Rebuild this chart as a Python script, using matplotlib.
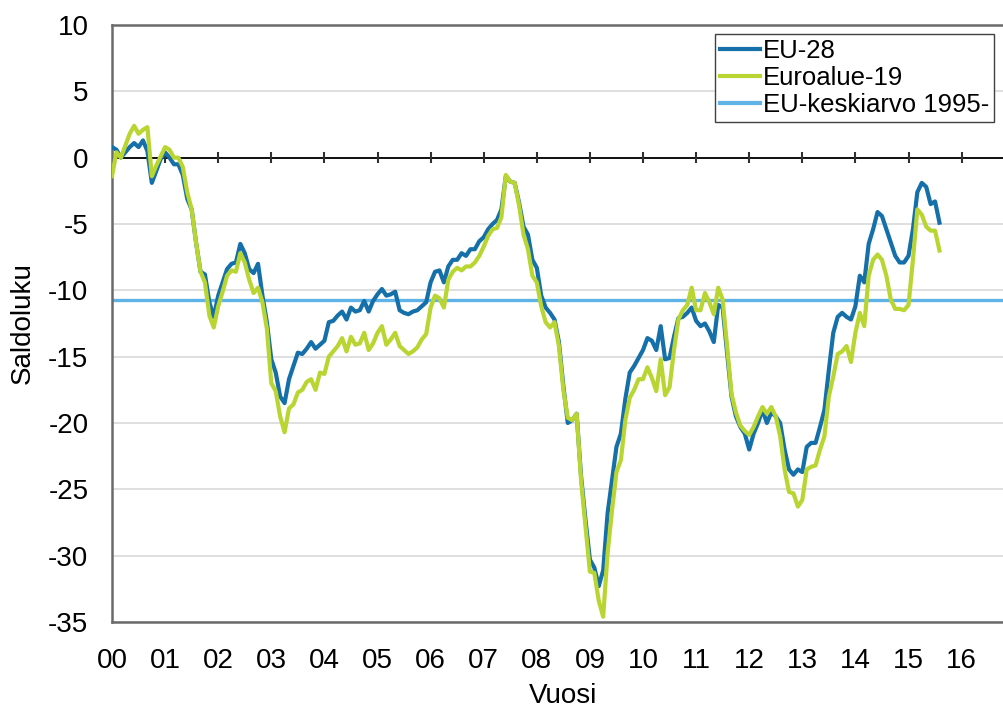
import numpy as np
import matplotlib
matplotlib.use("Agg")
import matplotlib.pyplot as plt
from matplotlib.lines import Line2D

plt.rcParams['font.family'] = ['Liberation Sans', 'DejaVu Sans']
plt.rcParams['axes.unicode_minus'] = False

# Monthly balance figures, Jan 2000 -> Aug 2015
eu28 = [
    0.8, 0.6, 0.0, 0.4, 0.8, 1.1, 0.8, 1.3, 0.5, -1.9, -1.0, -0.1,          # 2000
    0.4, 0.0, -0.5, -0.5, -1.3, -3.1, -3.9, -6.4, -8.6, -8.8, -10.9, -12.0,  # 2001
    -10.4, -9.4, -8.4, -8.0, -7.9, -6.5, -7.2, -8.4, -8.7, -8.0, -10.4, -12.4,  # 2002
    -15.2, -16.2, -18.0, -18.5, -16.7, -15.7, -14.7, -14.8, -14.4, -13.9, -14.4, -14.1,  # 2003
    -13.8, -12.4, -12.3, -11.9, -11.6, -12.2, -11.3, -11.6, -11.5, -10.8, -11.6, -10.8,  # 2004
    -10.3, -9.9, -10.4, -10.3, -10.1, -11.5, -11.7, -11.8, -11.6, -11.5, -11.2, -10.9,  # 2005
    -9.4, -8.6, -8.5, -9.4, -8.2, -7.7, -7.7, -7.2, -7.4, -6.9, -6.9, -6.3,  # 2006
    -6.0, -5.4, -5.0, -4.7, -3.9, -1.4, -1.8, -1.9, -3.4, -5.2, -5.8, -7.7,  # 2007
    -8.3, -10.4, -11.3, -11.7, -12.2, -13.9, -17.2, -20.0, -19.8, -19.3, -24.0, -27.3,  # 2008
    -30.3, -30.9, -32.3, -31.1, -26.8, -24.3, -21.8, -20.8, -18.2, -16.2, -15.7, -15.1,  # 2009
    -14.5, -13.6, -13.8, -14.5, -12.7, -15.2, -15.1, -13.5, -12.1, -12.0, -11.7, -11.3,  # 2010
    -12.3, -12.7, -12.5, -13.1, -13.9, -11.1, -11.3, -14.7, -18.0, -19.5, -20.3, -20.8,  # 2011
    -22.0, -20.8, -20.0, -19.0, -20.0, -19.2, -19.5, -20.0, -22.0, -23.5, -23.9, -23.5,  # 2012
    -23.7, -21.8, -21.5, -21.5, -20.3, -19.0, -16.0, -13.2, -12.0, -11.7, -12.0, -12.2,  # 2013
    -11.2, -8.9, -9.4, -6.5, -5.4, -4.1, -4.4, -5.4, -6.4, -7.4, -7.9, -7.9,  # 2014
    -7.4, -5.4, -2.6, -1.9, -2.2, -3.5, -3.3, -4.9,  # 2015
]
ea19 = [
    -1.4, 0.4, 0.0, 0.9, 1.8, 2.4, 1.8, 2.1, 2.3, -1.4, -0.6, 0.1,  # 2000
    0.8, 0.6, 0.0, 0.0, -0.7, -2.6, -3.9, -6.4, -8.6, -9.4, -11.9, -12.8,  # 2001
    -11.2, -10.1, -8.9, -8.5, -8.6, -7.2, -7.9, -9.2, -10.2, -9.8, -10.9, -12.9,  # 2002
    -17.0, -17.6, -19.5, -20.7, -18.9, -18.6, -17.7, -17.5, -16.9, -16.7, -17.5, -16.2,  # 2003
    -16.3, -15.0, -14.6, -14.2, -13.6, -14.6, -13.5, -14.1, -14.0, -13.2, -14.5, -14.0,  # 2004
    -13.2, -12.7, -14.1, -13.7, -13.2, -14.2, -14.5, -14.8, -14.6, -14.3, -13.7, -13.3,  # 2005
    -11.3, -10.4, -10.6, -11.3, -9.2, -8.6, -8.3, -8.5, -8.2, -8.2, -7.9, -7.4,  # 2006
    -6.7, -5.9, -5.4, -5.3, -4.5, -1.3, -1.8, -1.9, -3.6, -5.8, -6.9, -8.9,  # 2007
    -9.4, -11.2, -12.4, -12.8, -12.4, -14.2, -17.5, -19.6, -19.8, -19.3, -24.3, -27.8,  # 2008
    -31.2, -31.3, -33.4, -34.6, -29.8, -26.6, -23.7, -22.8, -19.8, -18.1, -17.5, -16.7,  # 2009
    -16.7, -15.8, -16.6, -17.6, -15.2, -17.9, -17.3, -14.5, -12.2, -11.5, -11.1, -9.8,  # 2010
    -11.5, -11.5, -10.2, -10.9, -11.8, -9.8, -10.7, -14.2, -17.8, -19.2, -20.2, -20.6,  # 2011
    -20.9, -20.3, -19.5, -18.8, -19.3, -18.8, -19.5, -21.0, -23.5, -25.2, -25.3, -26.3,  # 2012
    -25.8, -23.5, -23.3, -23.2, -22.0, -21.0, -18.0, -16.5, -14.8, -14.6, -14.2, -15.4,  # 2013
    -13.2, -11.7, -12.7, -8.9, -7.7, -7.3, -7.7, -8.9, -10.7, -11.4, -11.4, -11.5,  # 2014
    -11.1, -7.7, -3.9, -4.3, -5.2, -5.5, -5.5, -7.0,  # 2015
]
eu_avg = -10.7
start_year = 2000
tick_years = list(range(2000, 2017))
tick_labels = ['00', '01', '02', '03', '04', '05', '06', '07', '08', '09',
               '10', '11', '12', '13', '14', '15', '16']
y_ticks = [10, 5, 0, -5, -10, -15, -20, -25, -30, -35]
series_names = ['EU-28', 'Euroalue-19', 'EU-keskiarvo 1995-']

c_eu = '#1570aa'
c_ea = '#b9d531'
c_avg = '#5fb3e6'

x = start_year + np.arange(len(eu28)) / 12.0

fig = plt.figure(figsize=(10.04, 7.09), dpi=100)
ax = fig.add_axes([112 / 1004, 87 / 709, 892 / 1004, 597 / 709])
ax.set_xlim(2000, 2000 + 892 / 53.1)
ax.set_ylim(-35, 10)

ax.set_yticks(y_ticks)
ax.yaxis.grid(True, color='#d9d9d9', lw=1.2, zorder=0)
ax.set_axisbelow(True)

ax.axhline(eu_avg, color=c_avg, lw=2.4, zorder=2)
ax.plot(x, eu28, color=c_eu, lw=3.0, zorder=3, solid_joinstyle='round')
ax.plot(x, ea19, color=c_ea, lw=3.0, zorder=4, solid_joinstyle='round')

# zero line with crossing year ticks
ax.axhline(0, color='black', lw=1.3, zorder=1.5)
ax.vlines(tick_years[1:], -0.42, 0.42, color='#303030', lw=1.5, zorder=1.6)

ax.set_xticks(tick_years)
ax.set_xticklabels(tick_labels)
ax.tick_params(axis='x', length=0, pad=19, labelsize=20)
ax.tick_params(axis='y', length=0, pad=17, labelsize=20)
for lab in ax.get_xticklabels():
    lab.set_x(lab.get_position()[0])

for s in ['left', 'top', 'bottom']:
    ax.spines[s].set_color('#6a6a6a')
    ax.spines[s].set_linewidth(1.8)
ax.spines['right'].set_visible(False)

handles = [Line2D([], [], color=c_eu, lw=3.0),
           Line2D([], [], color=c_ea, lw=3.0),
           Line2D([], [], color=c_avg, lw=3.0)]
leg = ax.legend(handles, series_names, loc='upper right',
                bbox_to_anchor=(994 / 1004, 1 - 34 / 709),
                bbox_transform=fig.transFigure, fontsize=18.5,
                frameon=True, fancybox=False, framealpha=1,
                edgecolor='#404040', borderpad=0.2, handlelength=1.55,
                handletextpad=0.1, labelspacing=0.12, borderaxespad=0)
leg.get_frame().set_linewidth(1.0)

fig.text(23 / 1004, 1 - 323 / 709, 'Saldoluku', rotation=90,
         ha='center', va='center', fontsize=20)
fig.text(563 / 1004, 1 - 696 / 709, 'Vuosi', ha='center', va='center',
         fontsize=20)

fig.savefig('out.png', dpi=100)
